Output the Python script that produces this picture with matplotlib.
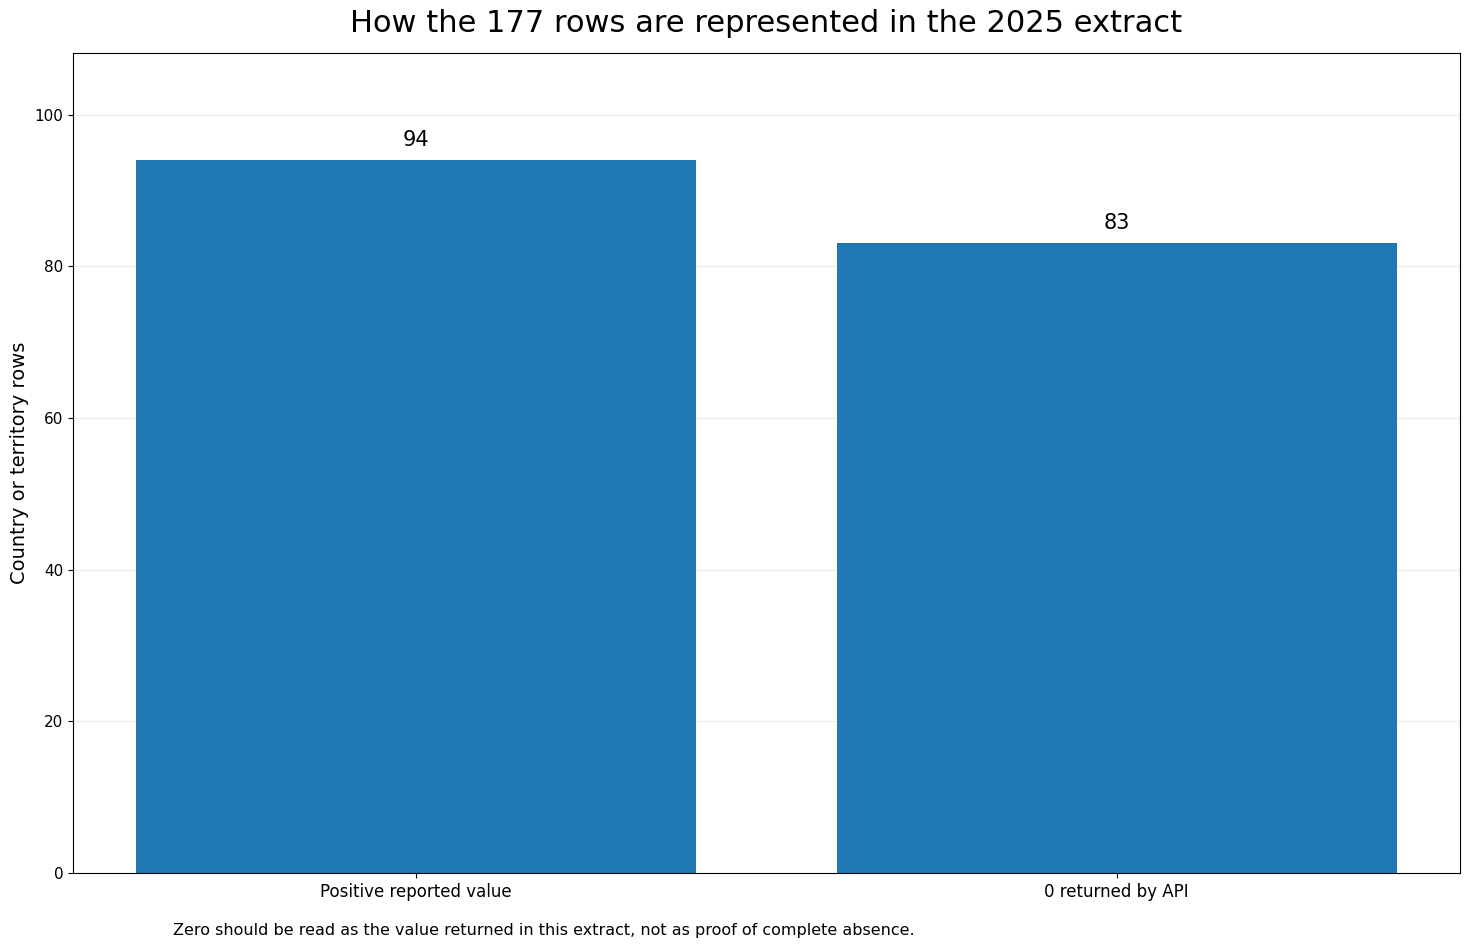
import matplotlib
matplotlib.use("Agg")
import matplotlib.pyplot as plt

# data
categories = ["Positive reported value", "0 returned by API"]
counts = [94, 83]
title = "How the 177 rows are represented in the 2025 extract"
note = "Zero should be read as the value returned in this extract, not as proof of complete absence."

fig, ax = plt.subplots(figsize=(14.7, 9.48), dpi=100)
fig.subplots_adjust(left=0.0497, right=0.9932, top=0.944, bottom=0.0791)

x = range(len(categories))
bars = ax.bar(x, counts, width=0.8, color="#1f77b4", zorder=2)
for b, v in zip(bars, counts):
    ax.annotate(str(v), (b.get_x() + b.get_width() / 2, v), xytext=(0, 7.5),
                textcoords="offset points", ha="center", va="bottom", fontsize=15)

ax.set_xticks(list(x))
ax.set_xticklabels(categories, fontsize=12)
ax.tick_params(axis="y", labelsize=11)
ax.set_ylim(0, max(counts) * 1.15)
ax.set_ylabel("Country or territory rows", fontsize=14)
ax.set_title(title, fontsize=22, pad=15)
ax.grid(axis="y", alpha=0.25, zorder=0)

fig.text(173 / 1470, 1 - 930 / 948, note, fontsize=11.5, va="center", ha="left")

fig.savefig("out.png", dpi=100)
